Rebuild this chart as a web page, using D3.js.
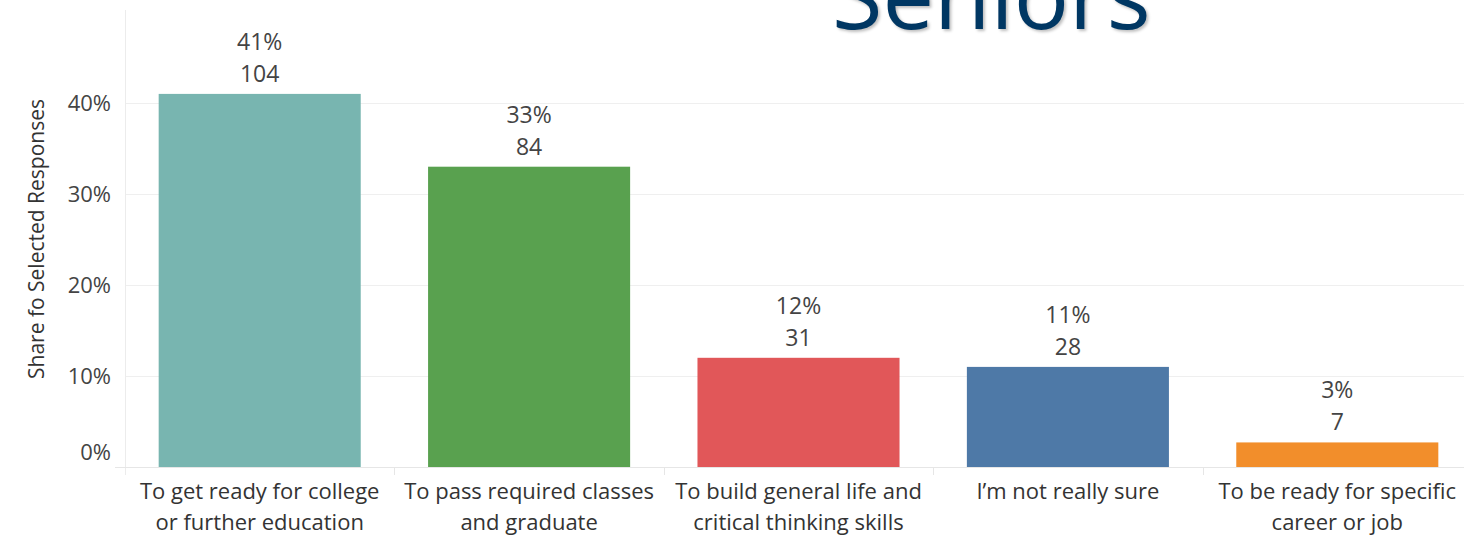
<!DOCTYPE html>
<html>
<head>
<meta charset="utf-8">
<script src="https://cdn.jsdelivr.net/npm/d3@7"></script>
<style>
  body { margin: 0; background: #fff; }
  svg { display: block; }
  .title { text-shadow: 2px 2px 3px rgba(0,0,0,0.25); }
</style>
</head>
<body>
<svg id="chart"></svg>
<script>
const categories = [
  ['To get ready for college', 'or further education'],
  ['To pass required classes', 'and graduate'],
  ['To build general life and', 'critical thinking skills'],
  ['I\u2019m not really sure'],
  ['To be ready for specific', 'career or job'],
];
const shares = [0.41, 0.33, 0.12, 0.11, 0.027];
const counts = [104, 84, 31, 28, 7];
const pctLabels = ['41%', '33%', '12%', '11%', '3%'];
const colors = ['#78b5b0', '#59a14f', '#e15759', '#4e79a7', '#f28e2b'];
const yTicks = [0, 0.1, 0.2, 0.3, 0.4];

const width = 1464;
const height = 538;
const margin = { top: 10, right: -8, bottom: 71, left: 125 };
const font = '"Open Sans", sans-serif';

const svg = d3.select('#chart')
  .attr('width', width)
  .attr('height', height)
  .style('font-family', font);

const x = d3.scaleBand()
  .domain(d3.range(categories.length))
  .range([margin.left, width - margin.right])
  .paddingInner(0.25)
  .paddingOuter(0.125);

const y = d3.scaleLinear()
  .domain([0, 0.5])
  .range([height - margin.bottom, height - margin.bottom - 0.5 * 910]);

const base = y(0);

// grid
svg.append('g')
  .selectAll('line')
  .data(yTicks.slice(1))
  .join('line')
  .attr('x1', margin.left)
  .attr('x2', width)
  .attr('y1', d => Math.round(y(d)) + 0.5)
  .attr('y2', d => Math.round(y(d)) + 0.5)
  .attr('stroke', '#efefef');

// left axis line
svg.append('line')
  .attr('x1', margin.left + 0.5)
  .attr('x2', margin.left + 0.5)
  .attr('y1', margin.top)
  .attr('y2', base + 8)
  .attr('stroke', '#ececec');

// baseline
svg.append('line')
  .attr('x1', 115)
  .attr('x2', width)
  .attr('y1', Math.round(base) + 0.5)
  .attr('y2', Math.round(base) + 0.5)
  .attr('stroke', '#e6e6e6');

// category separators
const step = x.step();
svg.append('g')
  .selectAll('line')
  .data(d3.range(1, categories.length))
  .join('line')
  .attr('x1', d => Math.round(margin.left + d * step) + 0.5)
  .attr('x2', d => Math.round(margin.left + d * step) + 0.5)
  .attr('y1', base)
  .attr('y2', base + 8)
  .attr('stroke', '#e6e6e6');

// y tick labels (Tableau nudges the 0% label up)
svg.append('g')
  .selectAll('text')
  .data(yTicks)
  .join('text')
  .attr('x', 111)
  .attr('y', d => (d === 0 ? y(d) - 15 : y(d)))
  .attr('dy', '0.35em')
  .attr('text-anchor', 'end')
  .attr('font-size', 22)
  .attr('fill', '#444')
  .text(d => d3.format('.0%')(d));

// y axis title
svg.append('text')
  .attr('transform', `translate(44,${239}) rotate(-90)`)
  .attr('text-anchor', 'middle')
  .attr('font-size', 21)
  .attr('fill', '#333')
  .text('Share fo Selected Responses');

// bars
svg.append('g')
  .selectAll('rect')
  .data(shares)
  .join('rect')
  .attr('x', (d, i) => x(i))
  .attr('width', x.bandwidth())
  .attr('y', d => y(d))
  .attr('height', d => base - y(d))
  .attr('fill', (d, i) => colors[i]);

// value labels
const labels = svg.append('g')
  .attr('font-size', 23)
  .attr('fill', '#444')
  .attr('text-anchor', 'middle');

labels.selectAll('text.pct')
  .data(shares)
  .join('text')
  .attr('class', 'pct')
  .attr('x', (d, i) => x(i) + x.bandwidth() / 2)
  .attr('y', d => y(d) - 44)
  .text((d, i) => pctLabels[i]);

labels.selectAll('text.cnt')
  .data(shares)
  .join('text')
  .attr('class', 'cnt')
  .attr('x', (d, i) => x(i) + x.bandwidth() / 2)
  .attr('y', d => y(d) - 12)
  .text((d, i) => counts[i]);

// category labels
const cat = svg.append('g')
  .attr('font-size', 22)
  .attr('fill', '#333')
  .attr('text-anchor', 'middle');

categories.forEach((lines, i) => {
  lines.forEach((line, j) => {
    cat.append('text')
      .attr('x', x(i) + x.bandwidth() / 2)
      .attr('y', base + 32 + j * 31)
      .text(line);
  });
});

// title, cropped at the top as in the slide
svg.append('text')
  .attr('class', 'title')
  .attr('x', 832)
  .attr('y', 29)
  .attr('font-size', 92)
  .attr('font-family', '"Open Sans", sans-serif')
  .attr('fill', '#003763')
  .text('Seniors');
</script>
</body>
</html>
